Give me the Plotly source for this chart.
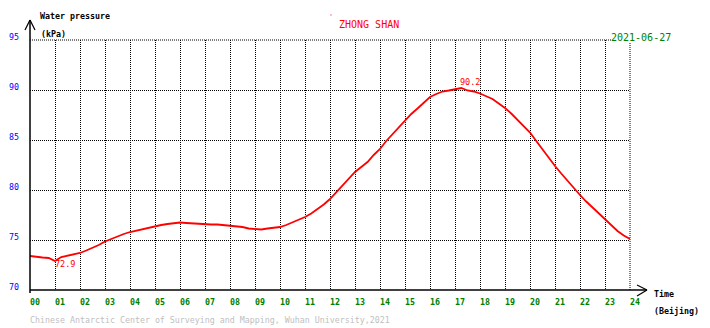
import plotly.graph_objects as go

# Water pressure at Zhong Shan station, 15-minute readings (Beijing time, hours)
hours = [i * 0.25 for i in range(97)]
pressure_kpa = [
    73.40, 73.30, 73.25, 73.20, 72.90, 73.30, 73.45, 73.55,
    73.70, 73.95, 74.20, 74.50, 74.85, 75.10, 75.40, 75.60,
    75.80, 75.95, 76.10, 76.25, 76.40, 76.50, 76.60, 76.70,
    76.75, 76.70, 76.65, 76.60, 76.60, 76.55, 76.55, 76.50,
    76.45, 76.35, 76.30, 76.15, 76.10, 76.05, 76.15, 76.20,
    76.30, 76.50, 76.75, 77.00, 77.30, 77.65, 78.10, 78.55,
    79.10, 79.75, 80.45, 81.15, 81.80, 82.30, 82.80, 83.50,
    84.10, 84.90, 85.60, 86.30, 87.00, 87.60, 88.15, 88.75,
    89.30, 89.60, 89.85, 89.95, 90.05, 90.20, 89.95, 89.85,
    89.65, 89.40, 89.10, 88.65, 88.20, 87.65, 87.05, 86.45,
    85.75, 84.90, 84.05, 83.20, 82.40, 81.65, 80.90, 80.20,
    79.50, 78.85, 78.25, 77.60, 77.00, 76.40, 75.90, 75.45,
    75.10,
]

x_tick_vals = list(range(25))
x_tick_text = [f"{h:02d}" for h in x_tick_vals]
y_tick_vals = [70, 75, 80, 85, 90, 95]
y_tick_text = [str(v) for v in y_tick_vals]

station = "ZHONG SHAN"
date_str = "2021-06-27"
credit = "Chinese Antarctic Center of Surveying and Mapping, Wuhan University,2021"

MONO = "DejaVu Sans Mono"
RED = "#ff0000"
GREEN = "#008000"
BLUE = "#0000ff"
DOTS = "1px,1px"

W, H = 710, 328
L, R, T, B = 30, 80, 40, 38
PW, PH = W - L - R, H - T - B


def px2paper(px, py):
    """Convert page pixel coordinates into plot-area paper fractions."""
    return (px - L) / PW, (H - B - py) / PH


fig = go.Figure()
fig.add_trace(go.Scatter(
    x=hours, y=pressure_kpa, mode="lines",
    line=dict(color=RED, width=1.8),
    hoverinfo="skip", showlegend=False,
))

i_max = max(range(len(pressure_kpa)), key=lambda i: pressure_kpa[i])
i_min = min(range(len(pressure_kpa)), key=lambda i: pressure_kpa[i])

annotations = [
    dict(x=hours[i_max], y=pressure_kpa[i_max], xref="x", yref="y",
         text=f"{pressure_kpa[i_max]:.1f}", showarrow=False,
         xanchor="left", yanchor="bottom", xshift=-1, yshift=1,
         font=dict(family=MONO, size=8.5, color=RED)),
    dict(x=hours[i_min], y=pressure_kpa[i_min], xref="x", yref="y",
         text=f"{pressure_kpa[i_min]:.1f}", showarrow=False,
         xanchor="left", yanchor="top", xshift=0, yshift=2,
         font=dict(family=MONO, size=8.5, color=RED)),
]


def page_text(px, py, text, size, color, weight="normal", bg=None):
    x, y = px2paper(px, py)
    a = dict(x=x, y=y, xref="paper", yref="paper", text=text, showarrow=False,
             xanchor="left", yanchor="middle",
             font=dict(family=MONO, size=size, color=color, weight=weight))
    if bg:
        a["bgcolor"] = bg
    return a


annotations += [
    page_text(40, 16, "Water pressure", 8.3, "black", "bold"),
    page_text(41, 34.5, "(kPa)", 8.3, "black", "bold"),
    page_text(339, 25, station, 10, RED),
    page_text(611, 37, date_str, 10, GREEN, bg="white"),
    page_text(654, 294, "Time", 8.3, "black", "bold"),
    page_text(654, 310.5, "(Beijing)", 8.3, "black", "bold"),
    page_text(30, 320, credit, 8.3, "#c0c0c0"),
]
for a in annotations:
    a["borderpad"] = 0
    a["borderwidth"] = 0


def seg(p0, p1, width=1.2, dash="solid"):
    x0, y0 = px2paper(*p0)
    x1, y1 = px2paper(*p1)
    return dict(type="line", xref="paper", yref="paper", x0=x0, y0=y0, x1=x1, y1=y1,
                line=dict(color="black", width=width, dash=dash), layer="above")


shapes = [
    # closing grid lines along the top and right edges of the plot area
    dict(type="line", xref="paper", yref="paper", x0=0, x1=1, y0=1, y1=1,
         line=dict(color="black", width=1, dash=DOTS), layer="below"),
    dict(type="line", xref="paper", yref="paper", x0=1, x1=1, y0=0, y1=1,
         line=dict(color="black", width=1, dash=DOTS), layer="below"),
    # axes with open arrow heads
    seg((30, 293), (30, 20), 1.5),
    seg((30, 290), (647, 290), 1.5),
    seg((30, 20), (25, 30)), seg((30, 20), (35, 30)),
    seg((647, 290), (637, 285)), seg((647, 290), (637, 296)),
]
dx0, dy0 = px2paper(330.5, 14.5)
dx1, dy1 = px2paper(331.5, 15.5)
shapes.append(dict(type="rect", xref="paper", yref="paper", x0=dx0, y0=dy1, x1=dx1, y1=dy0,
                   fillcolor=RED, line=dict(width=0)))

fig.update_layout(
    width=W, height=H,
    margin=dict(l=L, r=R, t=T, b=B, pad=0, autoexpand=False),
    paper_bgcolor="white", plot_bgcolor="white",
    showlegend=False,
    annotations=annotations,
    shapes=shapes,
    xaxis=dict(
        range=[0, 24], tickvals=x_tick_vals, ticktext=x_tick_text,
        showgrid=True, gridcolor="black", gridwidth=1, griddash=DOTS,
        zeroline=False, showline=False, ticks="", automargin=False,
        tickfont=dict(family=MONO, size=8.3, color=GREEN, weight="bold"),
        ticklabelstandoff=6, ticklabelshift=5,
        fixedrange=True,
    ),
    yaxis=dict(
        range=[70, 95], tickvals=y_tick_vals, ticktext=y_tick_text,
        showgrid=True, gridcolor="black", gridwidth=1, griddash=DOTS,
        zeroline=False, showline=False, ticks="", automargin=False,
        tickfont=dict(family=MONO, size=8.3, color=BLUE),
        ticklabelstandoff=10, ticklabelshift=-3,
        fixedrange=True,
    ),
)

fig.write_html("out.html")
